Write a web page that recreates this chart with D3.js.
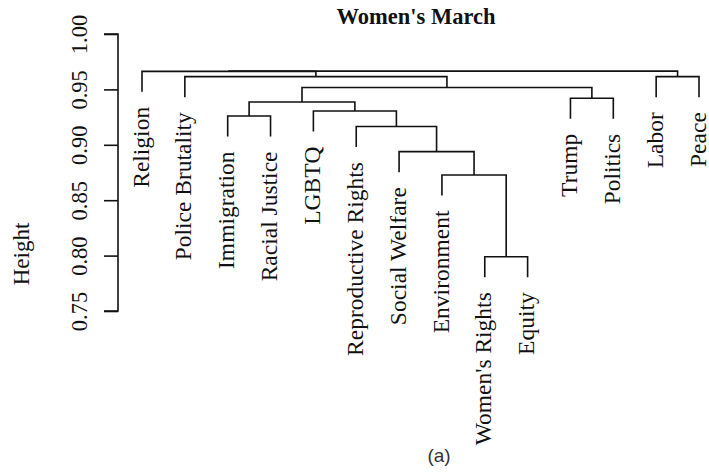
<!DOCTYPE html>
<meta charset="utf-8">
<script src="https://d3js.org/d3.v7.min.js"></script>
<style>
  body { margin: 0; background: #fff; }
  text { font-family: "Liberation Serif", "Times New Roman", serif; fill: #111; }
</style>
<div id="my_dataviz"></div>
<script>

// leaves, left to right as drawn
var leafLabels = ["Religion", "Police Brutality", "Immigration", "Racial Justice", "LGBTQ",
  "Reproductive Rights", "Social Welfare", "Environment", "Women's Rights", "Equity",
  "Trump", "Politics", "Labor", "Peace"];

// merge steps like R's hclust: negative = leaf (1-based), positive = earlier step
var mergeLeft  = [-9, -8, -7, -6, -3, -5, 5, -11, 7, -2, -13, -1, 12];
var mergeRight = [-10, 1, 2, 3, -4, 4, 6, -12, 8, 9, -14, 10, 11];
var mergeHeight = [0.799, 0.8727, 0.8938, 0.9165, 0.926, 0.9305, 0.9386, 0.942,
  0.9517, 0.9615, 0.9615, 0.9663, 0.9665];

var yTicks = [0.75, 0.80, 0.85, 0.90, 0.95, 1.00];
var hang = 0.0185;

var width = 709, height = 475;

var svg = d3.select("#my_dataviz")
  .append("svg")
    .attr("width", width)
    .attr("height", height);

// scales
var x = d3.scalePoint()
  .domain(leafLabels)
  .range([142, 699]);

var y = d3.scaleLinear()
  .domain([0.75, 1.00])
  .range([311, 34]);

// build the tree from the merge steps
function node(i) {
  if (i < 0) return { name: leafLabels[-i - 1] };
  var k = i - 1;
  return { h: mergeHeight[k], children: [node(mergeLeft[k]), node(mergeRight[k])] };
}
var root = d3.hierarchy(node(mergeLeft.length));

// x of each node: leaves on the scale, joins in the middle of their children
root.eachAfter(function(d) {
  if (!d.children) d.x = x(d.data.name);
  else d.x = (d.children[0].x + d.children[1].x) / 2;
});

// the branches
var links = [];
root.each(function(d) {
  if (!d.children) return;
  var a = d.children[0], b = d.children[1];
  var ya = a.children ? y(a.data.h) : y(d.data.h - hang);
  var yb = b.children ? y(b.data.h) : y(d.data.h - hang);
  links.push("M" + a.x + "," + ya + "V" + y(d.data.h) + "H" + b.x + "V" + yb);
});

svg.append("g")
  .selectAll("path")
  .data(links)
  .enter()
  .append("path")
    .attr("d", function(d) { return d; })
    .attr("fill", "none")
    .attr("stroke", "#111")
    .attr("stroke-width", 1.6);

// leaf labels, hanging below the leaves
svg.append("g")
  .selectAll("text")
  .data(root.leaves())
  .enter()
  .append("text")
    .attr("transform", function(d) {
      var p = d.parent.data.h - hang;
      return "translate(" + d.x + "," + (y(p) + 15) + ") rotate(-90)";
    })
    .attr("dy", "0.28em")
    .attr("text-anchor", "end")
    .style("font-size", "23.5px")
    .text(function(d) { return d.data.name; });

// Y axis, R style with rotated labels
var axis = svg.append("g")
  .attr("transform", "translate(118,0)")
  .call(d3.axisLeft(y).tickValues(yTicks).tickSize(14).tickFormat(d3.format(".2f")));
axis.select(".domain").attr("stroke", "#111").attr("stroke-width", 1.6)
  .attr("d", "M-14," + y(0.75) + "H0V" + y(1.00) + "H-14");
axis.selectAll(".tick line").attr("stroke", "#111").attr("stroke-width", 1.6);
axis.selectAll(".tick text")
  .attr("x", null).attr("dy", null)
  .attr("transform", "translate(-31,0) rotate(-90)")
  .attr("text-anchor", "middle")
  .attr("fill", "#111")
  .style("font-family", "'Liberation Serif', serif")
  .style("font-size", "22.5px");

// axis title
svg.append("text")
  .attr("transform", "translate(29,254) rotate(-90)")
  .attr("text-anchor", "middle")
  .style("font-size", "23px")
  .text("Height");

// title
svg.append("text")
  .attr("x", 416)
  .attr("y", 24)
  .attr("text-anchor", "middle")
  .style("font-size", "22.5px")
  .style("font-weight", "bold")
  .text("Women's March");

// panel tag
svg.append("text")
  .attr("x", 439)
  .attr("y", 462)
  .attr("text-anchor", "middle")
  .style("font-family", "'Liberation Sans', Arial, sans-serif")
  .style("font-size", "19px")
  .style("fill", "#333")
  .text("(a)");

</script>
